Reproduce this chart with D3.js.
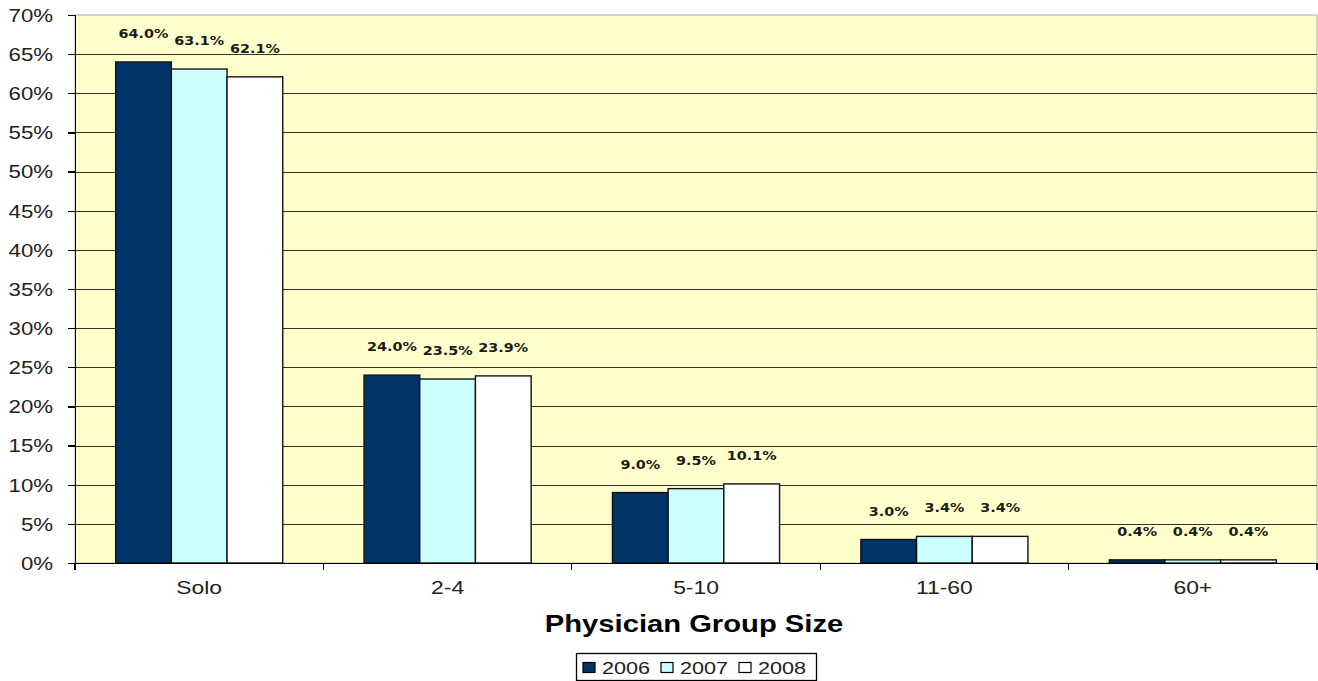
<!DOCTYPE html>
<html>
<head>
	<title>Physician Group Size</title>
	<script src="https://d3js.org/d3.v7.min.js"></script>
	<style>
		body { margin: 0; background: #fff; }
		text { font-family: Arial, "Liberation Sans", sans-serif; }
		.axis path, .axis line { stroke: #000; shape-rendering: crispEdges; }
	</style>
</head>
<body>
	<div id="plot"></div>
	<script type="text/javascript">
		// data
		const categories = ["Solo", "2-4", "5-10", "11-60", "60+"];
		const years = ["2006", "2007", "2008"];
		const v2006 = [64.0, 24.0, 9.0, 3.0, 0.4];
		const v2007 = [63.1, 23.5, 9.5, 3.4, 0.4];
		const v2008 = [62.1, 23.9, 10.1, 3.4, 0.4];
		const yTicks = [0, 5, 10, 15, 20, 25, 30, 35, 40, 45, 50, 55, 60, 65, 70];
		const colors = ["#003366", "#CCFFFF", "#FFFFFF"];

		var w = 1318, h = 681;
		var pLeft = 75, pRight = 1317, pTop = 15, pBottom = 563;
		var sx = 1.27; // the original picture is stretched horizontally

		var svg = d3.select("#plot").append("svg")
			.attr("width", w).attr("height", h);

		var x = d3.scaleBand().domain(categories).range([pLeft, pRight]).paddingInner(0).paddingOuter(0);
		var inner = d3.scaleBand().domain(years).range([0, x.bandwidth()]).paddingInner(0).paddingOuter(0.73);
		var y = d3.scaleLinear().domain([0, 70]).range([pBottom, pTop]);

		// plot background
		svg.append("rect")
			.attr("x", pLeft).attr("y", pTop)
			.attr("width", pRight - pLeft).attr("height", pBottom - pTop)
			.attr("fill", "#FFFFCC").attr("stroke", "#aaa").attr("stroke-width", 1);

		// gridlines
		svg.append("g")
			.selectAll("line")
			.data(yTicks.filter(d => d > 0 && d < 70))
			.enter().append("line")
			.attr("x1", pLeft).attr("x2", pRight)
			.attr("y1", d => Math.round(y(d)) + 0.5).attr("y2", d => Math.round(y(d)) + 0.5)
			.attr("stroke", "#333").attr("stroke-width", 1.2);

		// bars
		var series = [v2006, v2007, v2008];
		var rows = [];
		categories.forEach(function(c, i) {
			years.forEach(function(yr, j) {
				rows.push({ cat: c, year: yr, value: series[j][i], color: colors[j] });
			});
		});

		svg.append("g").selectAll("rect")
			.data(rows).enter().append("rect")
			.attr("x", d => x(d.cat) + inner(d.year))
			.attr("y", d => y(d.value))
			.attr("width", inner.bandwidth())
			.attr("height", d => y(0) - y(d.value))
			.attr("fill", d => d.color)
			.attr("stroke", "#111").attr("stroke-width", 1.4);

		// value labels
		svg.append("g").selectAll("text")
			.data(rows).enter().append("text")
			.attr("transform", d => "translate(" + (x(d.cat) + inner(d.year) + inner.bandwidth() / 2) + "," + (y(d.value) - 24) + ") scale(1.15,1)")
			.attr("text-anchor", "middle")
			.style("font-family", "'DejaVu Sans', Verdana, sans-serif")
			.attr("font-size", 12.5).attr("font-weight", "bold")
			.attr("fill", "#1a1a1a")
			.text(d => d.value.toFixed(1) + "%");

		// x axis
		var xAxis = svg.append("g")
			.attr("class", "axis")
			.attr("transform", "translate(0," + pBottom + ")")
			.call(d3.axisBottom(x).tickSize(0));
		xAxis.select(".domain").attr("stroke-width", 1.5);
		xAxis.selectAll(".tick text")
			.attr("y", 0).attr("dy", "0.35em")
			.attr("transform", "translate(0,25) scale(" + sx + ",1)")
			.attr("font-size", 18).attr("fill", "#222")
			.style("font-family", "Arial, 'Liberation Sans', sans-serif");
		// boundary ticks between categories
		xAxis.selectAll(".bound")
			.data(d3.range(categories.length + 1))
			.enter().append("line")
			.attr("class", "bound")
			.attr("x1", i => pLeft + i * x.bandwidth()).attr("x2", i => pLeft + i * x.bandwidth())
			.attr("y1", 0).attr("y2", 7)
			.attr("stroke", "#000").attr("stroke-width", 1.2);

		// y axis
		var yAxis = svg.append("g")
			.attr("class", "axis")
			.attr("transform", "translate(" + pLeft + ",0)")
			.call(d3.axisLeft(y).tickValues(yTicks).tickSize(7).tickFormat(d => d + "%"));
		yAxis.select(".domain").attr("stroke-width", 1.5);
		yAxis.selectAll(".tick line").attr("stroke-width", 1.2);
		yAxis.selectAll(".tick text")
			.attr("x", 0).attr("dy", "0.36em")
			.attr("transform", "translate(-22,0) scale(" + sx + ",1)")
			.attr("font-size", 17.5).attr("fill", "#222")
			.style("font-family", "Arial, 'Liberation Sans', sans-serif");

		// axis title
		svg.append("text")
			.attr("transform", "translate(" + 694 + ",632) scale(" + sx + ",1)")
			.attr("text-anchor", "middle")
			.attr("font-size", 23).attr("font-weight", "bold")
			.attr("fill", "#000")
			.text("Physician Group Size");

		// legend
		var lg = svg.append("g").attr("transform", "translate(576,653)");
		lg.append("rect").attr("x", 0.5).attr("y", 0.5).attr("width", 240).attr("height", 27)
			.attr("fill", "#fff").attr("stroke", "#000").attr("stroke-width", 1.3);
		var item = lg.selectAll(".item").data(years).enter().append("g")
			.attr("transform", (d, i) => "translate(" + (7 + i * 78) + ",0)");
		item.append("rect").attr("y", 9.5).attr("width", 12).attr("height", 10)
			.attr("fill", (d, i) => colors[i]).attr("stroke", "#000").attr("stroke-width", 1.2);
		item.append("text")
			.attr("transform", "translate(19,20.5) scale(" + sx + ",1)")
			.attr("font-size", 17).attr("fill", "#222")
			.text(d => d);
	</script>
</body>
</html>
